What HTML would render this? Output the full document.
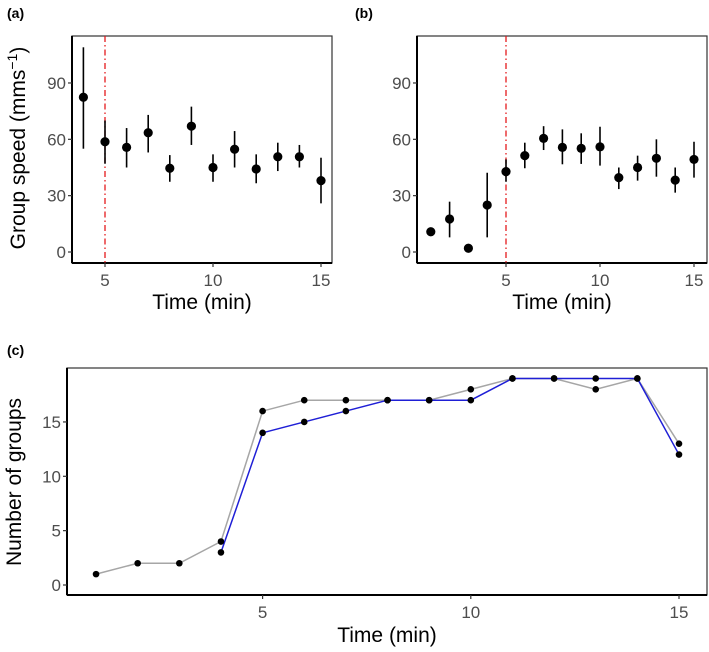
<!DOCTYPE html>
<html><head><meta charset="utf-8">
<style>
html,body{margin:0;padding:0;background:#fff;}
svg{display:block;font-family:"Liberation Sans",Arial,sans-serif;}
.tick{fill:#4d4d4d;font-size:17px;}
.title{fill:#000;font-size:21px;}
.plab{font-weight:bold;font-size:14px;fill:#000;}
</style></head>
<body>
<svg id="fig" width="709" height="652" viewBox="0 0 709 652">
<text class="plab" x="7" y="18">(a)</text>
<text class="plab" x="355" y="18">(b)</text>
<text class="plab" x="7" y="355">(c)</text>
<g id="pa"></g>
<g id="pb"></g>
<g id="pc"></g>
</svg>
<script>
// Panel a data
const aTime = [4,5,6,7,8,9,10,11,12,13,14,15];
const aMean = [82.4,58.7,55.7,63.5,44.6,67,45,54.7,44.2,50.7,50.7,38];
const aLow  = [55,47,45,53,37.4,57,37.4,45,36.6,43.1,45,25.9];
const aHigh = [109,70,66,73,51.6,77.4,52,64.4,52,58.2,57,50.2];
// Panel b data
const bTime = [1,2,3,4,5,6,7,8,9,10,11,12,13,14,15];
const bMean = [10.8,17.6,2,25,42.8,51.3,60.5,55.7,55.2,56,39.6,45,49.9,38.3,49.3];
const bLow  = [10.8,7.8,2,7.8,37.4,44.6,54.3,46.7,46.9,46,33.5,38,40.1,31.6,39.6];
const bHigh = [10.8,26.8,2,42.2,49.3,58.2,67,65.3,63.2,66.7,45,51.3,60,45,58.7];
const speedTicks = [0,30,60,90];
const timeTicks = [5,10,15];
// Panel c data
const cGrayTime = [1,2,3,4,5,6,7,8,9,10,11,12,13,14,15];
const cGray = [1,2,2,4,16,17,17,17,17,18,19,19,18,19,13];
const cBlueTime = [4,5,6,7,8,9,10,11,12,13,14,15];
const cBlue = [3,14,15,16,17,17,17,19,19,19,19,12];
const groupTicks = [0,5,10,15];
const marker = 5;

const NS="http://www.w3.org/2000/svg";
function mk(parent,tag,attrs){const e=document.createElementNS(NS,tag);for(const k in attrs)e.setAttribute(k,attrs[k]);parent.appendChild(e);return e;}

function frame(g,x0,x1,y0,y1,xs,ys,yt,xt,name){
  const r=mk(g,'rect',{x:x0,y:y0,width:x1-x0,height:y1-y0,fill:'none',stroke:'#333','stroke-width':1.2});
  
  
  const la=mk(g,'line',{x1:x0,y1:y0,x2:x0,y2:y1,stroke:'#000','stroke-width':2});
  
  
  const ba=mk(g,'line',{x1:x0,y1:y1,x2:x1,y2:y1,stroke:'#000','stroke-width':2});
  
  
  yt.forEach(v=>{
    const y=ys(v);
    const t=mk(g,'line',{x1:x0-4,y1:y,x2:x0,y2:y,stroke:'#333','stroke-width':1.2});
    
    
    const l=mk(g,'text',{x:x0-6,y:y+6,'text-anchor':'end',class:'tick'});
    l.textContent=v;
    
    
  });
  xt.forEach(v=>{
    const x=xs(v);
    const t=mk(g,'line',{x1:x,y1:y1,x2:x,y2:y1+4,stroke:'#333','stroke-width':1.2});
    
    
    const l=mk(g,'text',{x:x,y:y1+23,'text-anchor':'middle',class:'tick'});
    l.textContent=v;
    
    
  });
}

function speedPanel(id,name,x0,x1,xs,time,mean,lo,hi,ylabel){
  const g=document.getElementById(id);
  const y0=36,y1=263;
  const ys=v=>252-v*1.878;
  frame(g,x0,x1,y0,y1,xs,ys,speedTicks,timeTicks,name);
  const vl=mk(g,'line',{x1:xs(marker),y1:y0,x2:xs(marker),y2:y1,stroke:'#e41a1c','stroke-width':1.3,'stroke-dasharray':'6,3,1.5,3'});
  
  
  time.forEach((t,i)=>{
    const x=xs(t);
    if(hi[i]!==lo[i]){
      const e=mk(g,'line',{x1:x,y1:ys(lo[i]),x2:x,y2:ys(hi[i]),stroke:'#000','stroke-width':1.6});
      
      
    }
    const c=mk(g,'circle',{cx:x,cy:ys(mean[i]),r:4.6,fill:'#000'});
    
    
  });
  const xt=mk(g,'text',{x:(x0+x1)/2,y:309,'text-anchor':'middle',class:'title'});
  xt.textContent='Time (min)';
  
  
  if(ylabel){
    const yt=mk(g,'text',{x:0,y:0,'text-anchor':'middle',class:'title',transform:'translate(25,148) rotate(-90)'});
    yt.innerHTML='Group speed (mms<tspan dy="-8" font-size="14">−1</tspan><tspan dy="8">)</tspan>';
    
    
  }
}
speedPanel('pa','panel-a',72,332,t=>105+(t-5)*21.6,aTime,aMean,aLow,aHigh,true);
speedPanel('pb','panel-b',417,707,t=>506+(t-5)*18.8,bTime,bMean,bLow,bHigh,false);

(function(){
  const g=document.getElementById('pc');
  const x0=67,x1=707,y0=368,y1=595;
  const xs=t=>262.6+(t-5)*41.64;
  const ys=v=>585-v*10.87;
  frame(g,x0,x1,y0,y1,xs,ys,groupTicks,timeTicks,'panel-c');
  const gp=mk(g,'polyline',{points:cGrayTime.map((t,i)=>xs(t)+','+ys(cGray[i])).join(' '),fill:'none',stroke:'#a6a6a6','stroke-width':1.5});
  
  
  const bp=mk(g,'polyline',{points:cBlueTime.map((t,i)=>xs(t)+','+ys(cBlue[i])).join(' '),fill:'none',stroke:'#1f1fd6','stroke-width':1.5});
  
  
  cGrayTime.forEach((t,i)=>{
    const c=mk(g,'circle',{cx:xs(t),cy:ys(cGray[i]),r:3.3,fill:'#000'});
    
    
  });
  cBlueTime.forEach((t,i)=>{
    const c=mk(g,'circle',{cx:xs(t),cy:ys(cBlue[i]),r:3.3,fill:'#000'});
    
    
  });
  const xt=mk(g,'text',{x:(x0+x1)/2,y:642,'text-anchor':'middle',class:'title'});
  xt.textContent='Time (min)';
  
  
  const yt=mk(g,'text',{x:0,y:0,'text-anchor':'middle',class:'title',transform:'translate(21,482) rotate(-90)'});
  yt.textContent='Number of groups';
  
  
})();
</script>
</body></html>
